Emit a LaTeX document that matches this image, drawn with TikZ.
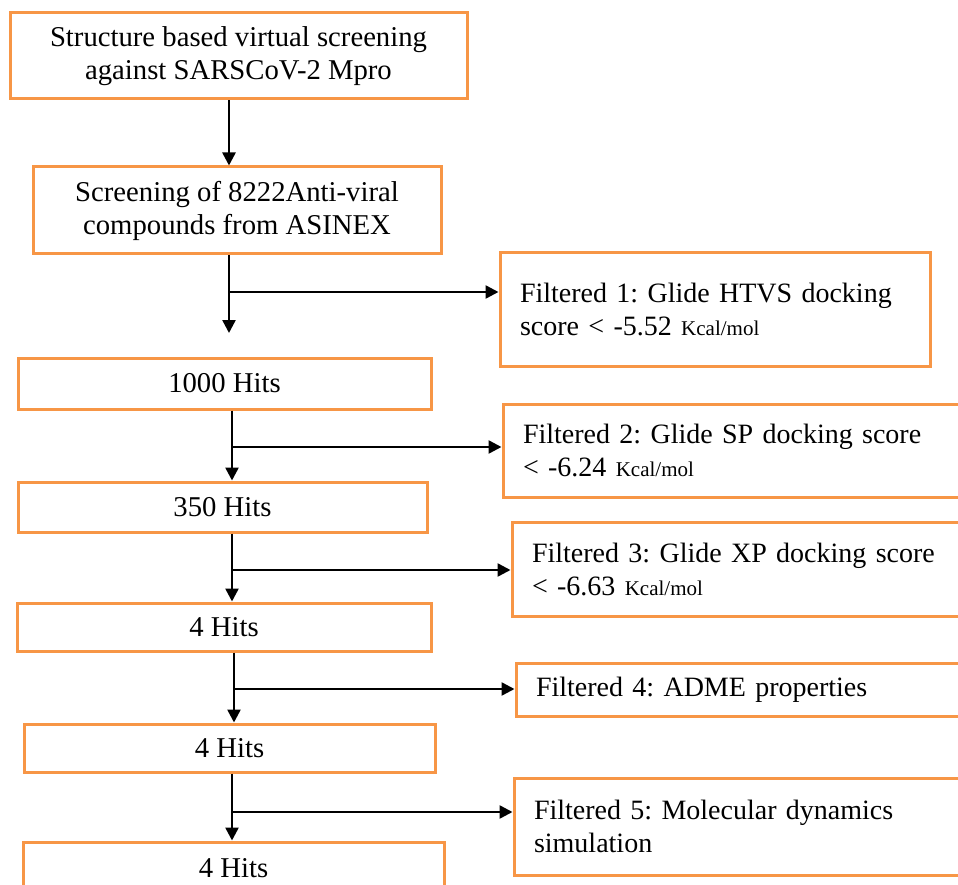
\documentclass[tikz,border=0pt]{standalone}
\usepackage{fontspec}
\setmainfont{Liberation Serif}
\usetikzlibrary{arrows.meta}
\definecolor{boxorange}{HTML}{F79646}
\newcommand{\kcal}{{\fontsize{21pt}{33pt}\selectfont Kcal/mol}}

\begin{document}
\frenchspacing
\begin{tikzpicture}[x=1pt,y=-1pt,
  stage/.style={draw=boxorange,line width=3pt,fill=white,inner sep=0pt,align=center,
    font=\fontsize{28.7pt}{33pt}\selectfont\frenchspacing},
  filt/.style={draw=boxorange,line width=3pt,fill=white,inner xsep=20pt,inner ysep=0pt,align=left,
    font=\fontsize{28pt}{33pt}\selectfont\frenchspacing},
  flow/.style={black,line width=2.5pt,-{Triangle[length=13pt,width=13pt]}}]
  \useasboundingbox (0,0) rectangle (958,885);

  % main column
  \node[stage,minimum width=457,minimum height=86] (screen) at (238.5,56) {Structure based virtual screening\\against SARSCoV-2 Mpro};
  \node[stage,minimum width=408,minimum height=87] (library) at (237,210.5) {Screening of 8222Anti-viral\\compounds from ASINEX};
  \node[stage,minimum width=413,minimum height=51] (hits1) at (224.5,383.5) {1000 Hits};
  \node[stage,minimum width=409,minimum height=50] (hits2) at (222.5,507) {350 Hits};
  \node[stage,minimum width=414,minimum height=48] (hits3) at (224,627) {4 Hits};
  \node[stage,minimum width=411,minimum height=48] (hits4) at (229.5,748) {4 Hits};
  \node[stage,minimum width=421,minimum height=52] (hits5) at (233.5,868) {4 Hits};

  % filter boxes on the right (cut by the page edge)
  \node[filt,text width=390pt,minimum height=113] (htvs) at (715,309.5) {Filtered 1: Glide HTVS docking\\score < -5.52 \kcal};
  \node[filt,text width=447pt,minimum height=93] (sp) at (746.5,450.5) {Filtered 2: Glide SP docking score\\< -6.24 \kcal};
  \node[filt,text width=438pt,minimum height=94] (xp) at (751,569) {Filtered 3: Glide XP docking score\\< -6.63 \kcal};
  \node[filt,text width=434pt,minimum height=53] (adme) at (753,689.5) {Filtered 4: ADME properties};
  \node[filt,text width=436pt,minimum height=97] (md) at (752,826.5) {Filtered 5: Molecular dynamics\\simulation};

  % branch points
  \coordinate (j1) at (229,292);
  \coordinate (e1) at (229,333);
  \coordinate (j2) at (232,447);
  \coordinate (j3) at (232,570);
  \coordinate (j4) at (234,689);
  \coordinate (j5) at (232,812);

  % arrows
  \draw[flow] (screen.south -| j1) -- (library.north -| j1);
  \draw[flow] (library.south -| j1) -- (e1);
  \draw[flow] (j1) -- (htvs.west |- j1);
  \draw[flow] (hits1.south -| j2) -- (hits2.north -| j2);
  \draw[flow] (j2) -- (sp.west |- j2);
  \draw[flow] (hits2.south -| j3) -- (hits3.north -| j3);
  \draw[flow] (j3) -- (xp.west |- j3);
  \draw[flow] (hits3.south -| j4) -- (hits4.north -| j4);
  \draw[flow] (j4) -- (adme.west |- j4);
  \draw[flow] (hits4.south -| j5) -- (hits5.north -| j5);
  \draw[flow] (j5) -- (md.west |- j5);
\end{tikzpicture}
\end{document}
